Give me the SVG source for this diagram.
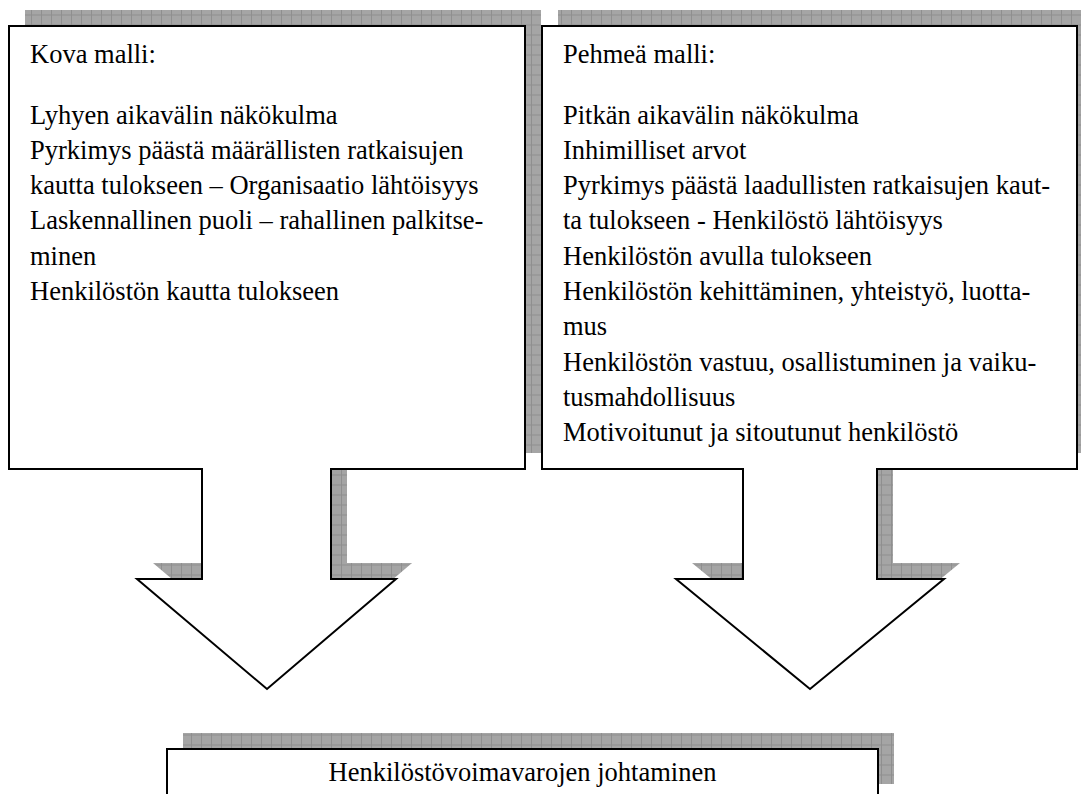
<svg xmlns="http://www.w3.org/2000/svg" width="1081" height="794" viewBox="0 0 1081 794">
<style>
.shape{fill:#fff;stroke:#000;stroke-width:2;stroke-linejoin:miter}
.shadow{fill:url(#grid);stroke:none}
.t{font-family:"Liberation Serif","Times New Roman",serif;font-size:26.5px;fill:#000}
</style>
<defs>
<pattern id="grid" patternUnits="userSpaceOnUse" x="5" y="0.5" width="10" height="10">
<rect width="10" height="10" fill="#a5a5a5"/>
<rect x="0" y="0" width="10" height="1" fill="#8f8f8f"/>
<rect x="0" y="0" width="1" height="10" fill="#8f8f8f"/>
</pattern>
</defs>
<rect width="1081" height="794" fill="#fff"/>
<g id="kova">
<path class="shadow" transform="translate(16,-16)" d="M9,26 H525 V469 H331 V579 H396 L267,689 L137,579 H202 V469 H9 Z"/>
<path class="shape" d="M9,26 H525 V469 H331 V579 H396 L267,689 L137,579 H202 V469 H9 Z"/>
<text class="t" x="30" y="62.7">Kova malli:</text>
<text class="t" x="30" y="123.5">Lyhyen aikavälin näkökulma</text>
<text class="t" x="30" y="158.8">Pyrkimys päästä määrällisten ratkaisujen</text>
<text class="t" x="30" y="194.1">kautta tulokseen – Organisaatio lähtöisyys</text>
<text class="t" x="30" y="229.4">Laskennallinen puoli – rahallinen palkitse-</text>
<text class="t" x="30" y="264.7">minen</text>
<text class="t" x="30" y="300">Henkilöstön kautta tulokseen</text>
</g>
<g id="pehmea">
<path class="shadow" transform="translate(16,-16)" d="M542,26 H1077 V469 H877 V579 H944 L810,689 L676,579 H743 V469 H542 Z"/>
<path class="shape" d="M542,26 H1077 V469 H877 V579 H944 L810,689 L676,579 H743 V469 H542 Z"/>
<text class="t" x="563" y="62.7">Pehmeä malli:</text>
<text class="t" x="563" y="123.5">Pitkän aikavälin näkökulma</text>
<text class="t" x="563" y="158.8">Inhimilliset arvot</text>
<text class="t" x="563" y="194.1">Pyrkimys päästä laadullisten ratkaisujen kaut-</text>
<text class="t" x="563" y="229.4">ta tulokseen - Henkilöstö lähtöisyys</text>
<text class="t" x="563" y="264.7">Henkilöstön avulla tulokseen</text>
<text class="t" x="563" y="300">Henkilöstön kehittäminen, yhteistyö, luotta-</text>
<text class="t" x="563" y="335.3">mus</text>
<text class="t" x="563" y="370.6">Henkilöstön vastuu, osallistuminen ja vaiku-</text>
<text class="t" x="563" y="405.9">tusmahdollisuus</text>
<text class="t" x="563" y="441.2">Motivoitunut ja sitoutunut henkilöstö</text>
</g>
<g id="hr">
<path class="shadow" transform="translate(16,-16)" d="M167,749 H878 V800 H167 Z"/>
<path class="shape" d="M167,749 H878 V800 H167 Z"/>
<text class="t" x="522.5" y="781" text-anchor="middle">Henkilöstövoimavarojen johtaminen</text>
</g>
<g id="connectors"></g>
</svg>
